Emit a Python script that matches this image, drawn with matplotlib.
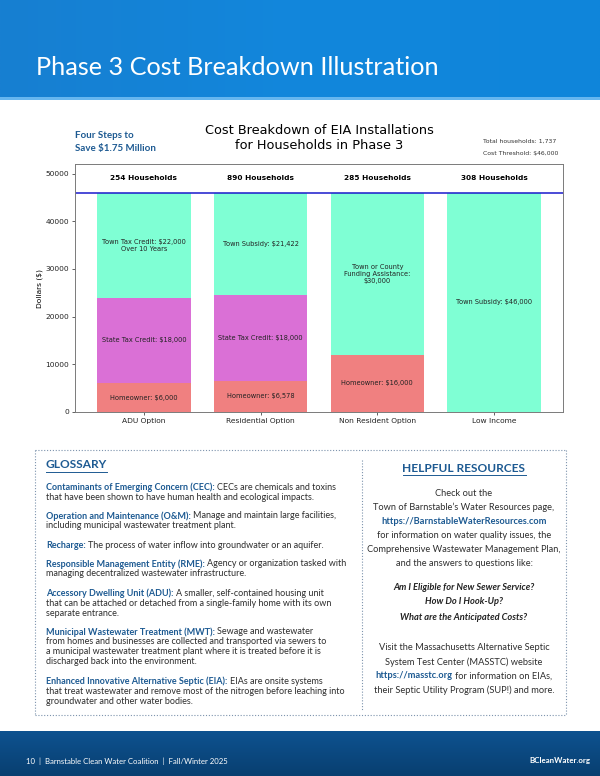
import matplotlib

matplotlib.use("Agg")
import matplotlib.pyplot as plt
import numpy as np
from matplotlib.colors import LinearSegmentedColormap
from matplotlib.patches import Rectangle

plt.rcParams["text.parse_math"] = False

# --- chart values -----------------------------------------------------------
CATEGORIES = ["ADU Option", "Residential Option", "Non Resident Option", "Low Income"]
HOUSEHOLDS = [254, 890, 285, 308]
HOMEOWNER = [6000, 6578, 12000, 0]
STATE_CREDIT = [18000, 18000, 0, 0]
TOWN_FUNDING = [22000, 21422, 34000, 46000]
HOMEOWNER_LABELS = ["Homeowner: $6,000", "Homeowner: $6,578", "Homeowner: $16,000", ""]
STATE_LABELS = ["State Tax Credit: $18,000", "State Tax Credit: $18,000", "", ""]
TOWN_LABELS = [
    "Town Tax Credit: $22,000\nOver 10 Years",
    "Town Subsidy: $21,422",
    "Town or County\nFunding Assistance:\n$30,000",
    "Town Subsidy: $46,000",
]
COST_THRESHOLD = 46000
TOTAL_HOUSEHOLDS = 1737
Y_TICKS = [0, 10000, 20000, 30000, 40000, 50000]

# --- page text ----------------------------------------------------------------
GLOSSARY = [
    ("Contaminants of Emerging Concern (CEC):",
     ["CECs are chemicals and toxins",
      "that have been shown to have human health and ecological impacts."]),
    ("Operation and Maintenance (O&M):",
     ["Manage and maintain large facilities,",
      "including municipal wastewater treatment plant."]),
    ("Recharge:",
     ["The process of water inflow into groundwater or an aquifer."]),
    ("Responsible Management Entity (RME):",
     ["Agency or organization tasked with",
      "managing decentralized wastewater infrastructure."]),
    ("Accessory Dwelling Unit (ADU):",
     ["A smaller, self-contained housing unit",
      "that can be attached or detached from a single-family home with its own",
      "separate entrance."]),
    ("Municipal Wastewater Treatment (MWT):",
     [" Sewage and wastewater",
      "from homes and businesses are collected and transported via sewers to",
      "a municipal wastewater treatment plant where it is treated before it is",
      "discharged back into the environment."]),
    ("Enhanced Innovative Alternative Septic (EIA):",
     ["EIAs are onsite systems",
      "that treat wastewater and remove most of the nitrogen before leaching into",
      "groundwater and other water bodies."]),
]

W, H = 600, 776
BLUE = "#1d5a92"
BODY = "#2e2e2e"
FONT = "Lato"

fig = plt.figure(figsize=(W / 100, H / 100), dpi=100)
renderer = fig.canvas.get_renderer()

# background layer in pixel units (y down)
bg = fig.add_axes([0, 0, 1, 1])
bg.set_xlim(0, W)
bg.set_ylim(H, 0)
bg.axis("off")
bg.set_zorder(0)

head_cmap = LinearSegmentedColormap.from_list("head", ["#177fd1", "#1287dc", "#0f85da"])
bg.imshow(np.linspace(0, 1, 256)[None, :], cmap=head_cmap, aspect="auto",
          extent=(0, W, 97, 0), zorder=0)
bg.add_patch(Rectangle((0, 97), W, 2.5, color="#66b6ef", lw=0, zorder=1))
bg.text(36, 75, "Phase 3 Cost Breakdown Illustration", color="white",
        fontsize=18.2, family=FONT, fontweight="normal", va="baseline", zorder=5)

foot_cmap = LinearSegmentedColormap.from_list("foot", ["#0e5290", "#083f70"])
bg.imshow(np.linspace(0, 1, 64)[:, None], cmap=foot_cmap, aspect="auto",
          extent=(0, W, H, 731), zorder=0)
bg.text(26, 761, "10  |  Barnstable Clean Water Coalition  |  Fall/Winter 2025",
        color="white", fontsize=5.6, family=FONT, va="center")
bg.text(590, 761, "BCleanWater.org", color="white", fontsize=5.7, family=FONT,
        fontweight="bold", va="center", ha="right")
bg.set_xlim(0, W)
bg.set_ylim(H, 0)


def underline(t):
    bb = t.get_window_extent(renderer)
    yy = H - bb.y0 + 1.0
    bg.plot([bb.x0, bb.x1], [yy, yy], color=t.get_color(), lw=0.7)


def mixed_line(x, y, parts, size, align="left"):
    arts = [bg.text(0, y, s, fontsize=size, fontweight=wt, color=c, family=FONT,
                    fontstyle=st, va="center") for s, wt, c, st in parts]
    widths = [a.get_window_extent(renderer).width for a in arts]
    gap = size * 0.27 * 100 / 72
    total = sum(widths) + gap * (len(arts) - 1)
    start = x - total / 2 if align == "center" else x
    for a, w in zip(arts, widths):
        a.set_x(start)
        start += w + gap
    return arts


# --- chart --------------------------------------------------------------------
ax = fig.add_axes([75 / W, 1 - 412 / H, 488 / W, 248 / H])
ax.set_zorder(2)
x = np.arange(len(CATEGORIES))
home = np.array(HOMEOWNER)
state = np.array(STATE_CREDIT)
town = np.array(TOWN_FUNDING)

ax.bar(x, home, 0.8, color="lightcoral")
ax.bar(x, state, 0.8, bottom=home, color="orchid")
ax.bar(x, town, 0.8, bottom=home + state, color="aquamarine")
ax.axhline(COST_THRESHOLD, color="#1a1acc", lw=1.1)

for i in range(len(CATEGORIES)):
    segs = [(0, home[i], HOMEOWNER_LABELS[i]),
            (home[i], state[i], STATE_LABELS[i]),
            (home[i] + state[i], town[i], TOWN_LABELS[i])]
    for bottom, height, label in segs:
        if label:
            ax.text(i, bottom + height / 2, label, ha="center", va="center",
                    fontsize=4.8, color="#222222")
    ax.text(i, 49000, f"{HOUSEHOLDS[i]} Households", ha="center", va="center",
            fontsize=5.3, fontweight="bold")

ax.set_ylim(0, 52000)
ax.set_xticks(x, CATEGORIES)
ax.set_yticks(Y_TICKS)
ax.tick_params(labelsize=5.4, length=2.2, width=0.5, pad=2, colors="#222222")
for sp in ax.spines.values():
    sp.set_linewidth(0.7)
    sp.set_color("#7a7a7a")
ax.set_ylabel("Dollars ($)", fontsize=5.4, labelpad=2)

bg.text(319, 138, "Cost Breakdown of EIA Installations\nfor Households in Phase 3",
        ha="center", va="center", fontsize=9.3, linespacing=1.25)
bg.text(483, 141.5, f"Total households: {TOTAL_HOUSEHOLDS:,}", fontsize=4.4,
        color="#333333", va="center")
bg.text(483, 153, f"Cost Threshold: ${COST_THRESHOLD:,}", fontsize=4.4,
        color="#333333", va="center")
bg.text(75, 135, "Four Steps to", fontsize=7, fontweight="bold", color=BLUE,
        family=FONT, va="center")
bg.text(75, 149, "Save $1.75 Million", fontsize=7, fontweight="bold", color=BLUE,
        family=FONT, va="center")

# --- glossary box -------------------------------------------------------------
dots = dict(color="#7d93ad", lw=0.8, ls=(0, (1, 1.6)))
bg.plot([35, 566], [450, 450], **dots)
bg.plot([35, 566], [715, 715], **dots)
bg.plot([35, 35], [450, 715], **dots)
bg.plot([566, 566], [450, 715], **dots)
bg.plot([362, 362], [460, 710], **dots)

t = bg.text(46, 465, "GLOSSARY", fontsize=8.6, fontweight="bold", color=BLUE,
            family=FONT, va="center")
underline(t)

y = 487
for term, lines in GLOSSARY:
    mixed_line(46, y, [(term, "bold", BLUE, "normal"),
                       (lines[0].strip(), "normal", BODY, "normal")], 6.5)
    for ln in lines[1:]:
        y += 10
        bg.text(46, y, ln, fontsize=6.5, color=BODY, family=FONT, va="center")
    y += 19

# --- helpful resources --------------------------------------------------------
cx = 464
t = bg.text(cx, 468, "HELPFUL RESOURCES", fontsize=8.6, fontweight="bold", color=BLUE,
            family=FONT, va="center", ha="center")
underline(t)

res_lines = [
    (493, "Check out the", "normal", BODY, "normal"),
    (507, "Town of Barnstable\u2019s Water Resources page,", "normal", BODY, "normal"),
    (521, "https://BarnstableWaterResources.com", "bold", BLUE, "normal"),
    (536, "for information on water quality issues, the", "normal", BODY, "normal"),
    (550, "Comprehensive Wastewater Management Plan,", "normal", BODY, "normal"),
    (564, "and the answers to questions like:", "normal", BODY, "normal"),
    (588, "Am I Eligible for New Sewer Service?", "bold", "#222222", "italic"),
    (602, "How Do I Hook-Up?", "bold", "#222222", "italic"),
    (617, "What are the Anticipated Costs?", "bold", "#222222", "italic"),
    (647, "Visit the Massachusetts Alternative Septic", "normal", BODY, "normal"),
    (662, "System Test Center (MASSTC) website", "normal", BODY, "normal"),
    (690, "their Septic Utility Program (SUP!) and more.", "normal", BODY, "normal"),
]
for yy, s, wt, c, st in res_lines:
    bg.text(cx, yy, s, fontsize=6.7, fontweight=wt, color=c, fontstyle=st,
            family=FONT, va="center", ha="center")
mixed_line(cx, 676, [("https://masstc.org", "bold", BLUE, "normal"),
                     ("for information on EIAs,", "normal", BODY, "normal")],
           6.7, align="center")

fig.savefig("out.png", dpi=100)
